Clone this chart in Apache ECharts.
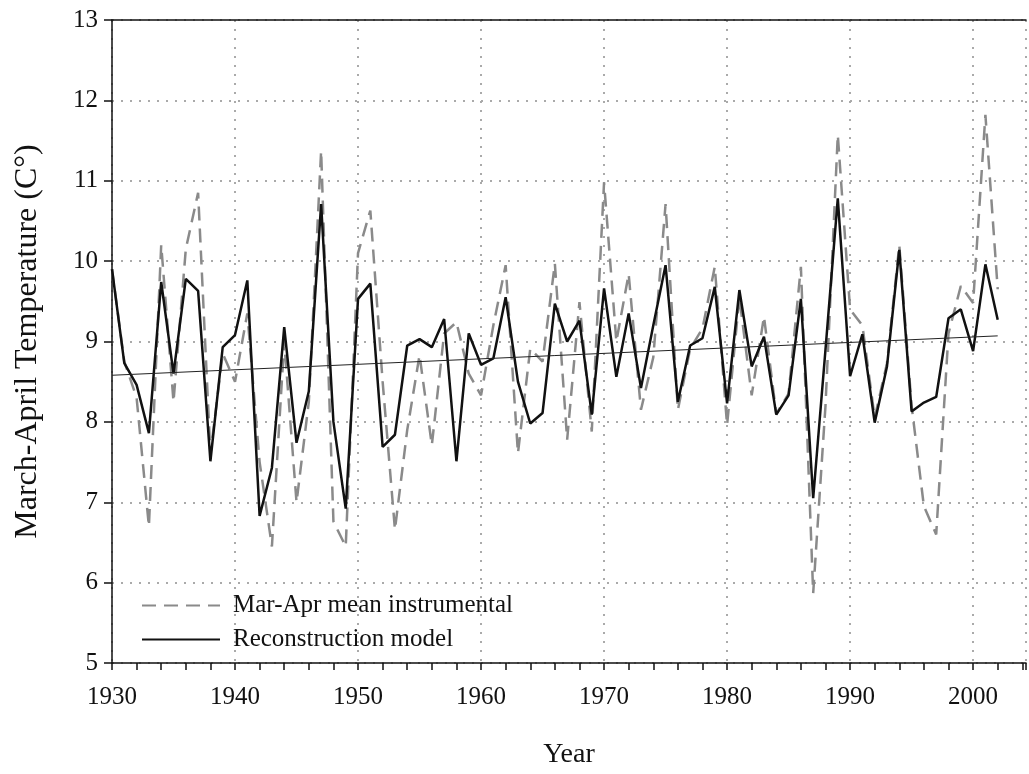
<!DOCTYPE html>
<html>
<head>
<meta charset="utf-8">
<script src="https://cdn.jsdelivr.net/npm/echarts@6/dist/echarts.min.js"></script>
<style>
    html, body {margin: 0; padding: 0; background: #fff}
    #chart {width: 1029px; height: 774px}
</style>
</head>
<body>
<div id="chart"></div>
<script>
// годы наблюдений
let years = []
for (let y = 1930; y <= 2002; y++) {
    years.push(y)
}

// инструментальные данные, март-апрель
let instrumental = [
    9.9, 8.75, 8.3, 6.7, 10.2, 8.25, 10.15, 10.85, 7.6, 8.85,
    8.5, 9.35, 7.5, 6.45, 9.0, 7.0, 8.25, 11.37, 6.76, 6.45,
    10.1, 10.63, 8.5, 6.66, 7.9, 8.83, 7.71, 9.1, 9.24, 8.6,
    8.33, 9.2, 9.95, 7.61, 8.91, 8.75, 9.97, 7.78, 9.49, 7.88,
    10.98, 9.0, 9.84, 8.15, 8.8, 10.71, 8.15, 8.91, 9.16, 9.93,
    7.96, 9.55, 8.33, 9.31, 8.1, 8.35, 9.93, 5.87, 8.2, 11.57,
    9.4, 9.2, 8.05, 8.73, 10.2, 8.2, 6.95, 6.6, 9.1, 9.69,
    9.48, 11.82, 9.65
]

// реконструкция
let reconstruction = [
    9.9, 8.73, 8.46, 7.86, 9.74, 8.6, 9.78, 9.63, 7.51, 8.93,
    9.08, 9.76, 6.83, 7.43, 9.18, 7.74, 8.38, 10.71, 8.0, 6.92,
    9.53, 9.72, 7.69, 7.84, 8.95, 9.03, 8.93, 9.28, 7.51, 9.1,
    8.71, 8.79, 9.55, 8.5, 7.98, 8.11, 9.47, 9.0, 9.26, 8.09,
    9.66, 8.56, 9.35, 8.42, 9.2, 9.95, 8.25, 8.95, 9.04, 9.68,
    8.23, 9.64, 8.69, 9.06, 8.09, 8.33, 9.53, 7.05, 8.9, 10.78,
    8.57, 9.09, 7.99, 8.69, 10.14, 8.13, 8.24, 8.31, 9.29, 9.4,
    8.88, 9.96, 9.27
]

// линия тренда (концы)
let trendYears = [1930, 2002]
let trendValues = [8.58, 9.07]

let seriesNames = ['Mar-Apr mean instrumental', 'Reconstruction model']

let font = 'Liberation Serif'

function pairs(xs, ys) {
    return xs.map((x, i) => [x, ys[i]])
}

let chartInst = echarts.init(document.getElementById('chart'))

chartInst.setOption({
    animation: false,
    backgroundColor: '#fff',
    grid: {left: 112, top: 20, bottom: 109, right: 0},
    legend: {
        orient: 'vertical',
        left: 136,
        top: 588,
        itemWidth: 78,
        itemHeight: 14,
        itemGap: 9,
        data: seriesNames,
        itemStyle: {opacity: 0},
        textStyle: {fontFamily: font, fontSize: 25, color: '#111', padding: [0, 0, 0, 8]},
    },
    xAxis: [{
        type: 'value',
        min: 1930,
        max: 2004.3,
        interval: 10,
        name: 'Year',
        nameLocation: 'middle',
        nameGap: 78,
        nameTextStyle: {fontFamily: font, fontSize: 28, color: '#111'},
        axisLine: {lineStyle: {color: '#111', width: 1.5}},
        axisTick: {length: 7, lineStyle: {color: '#111', width: 1.5}},
        minorTick: {show: true, splitNumber: 5, length: 7, lineStyle: {color: '#111', width: 1.5}},
        axisLabel: {
            fontFamily: font, fontSize: 25, color: '#111', margin: 22,
            formatter: (v) => v <= 2000 ? String(v) : '',
        },
        splitLine: {show: true, lineStyle: {color: '#aaa', type: [2, 7], width: 2}},
    }, {
        type: 'value',
        position: 'top',
        min: 1930,
        max: 2004.3,
        axisLine: {show: true, lineStyle: {color: '#111', width: 1.5}},
        axisTick: {show: false},
        axisLabel: {show: false},
        splitLine: {show: false},
    }],
    yAxis: {
        type: 'value',
        min: 5,
        max: 13,
        interval: 1,
        name: 'March-April Temperature (C°)',
        nameLocation: 'middle',
        nameGap: 68,
        nameTextStyle: {fontFamily: font, fontSize: 32, color: '#111'},
        axisLine: {show: true, lineStyle: {color: '#111', width: 1.5}},
        axisTick: {show: true, length: 8, lineStyle: {color: '#111', width: 1.5}},
        axisLabel: {fontFamily: font, fontSize: 25, color: '#111', margin: 14},
        splitLine: {show: true, lineStyle: {color: '#aaa', type: [2, 7], width: 2}},
    },
    series: [
        {
            name: seriesNames[0],
            type: 'line',
            data: pairs(years, instrumental),
            symbol: 'none',
            lineStyle: {color: '#8a8a8a', width: 2.5, type: [14, 8]},
            itemStyle: {color: '#8a8a8a'},
            z: 2,
        },
        {
            name: seriesNames[1],
            type: 'line',
            data: pairs(years, reconstruction),
            symbol: 'none',
            lineStyle: {color: '#111', width: 2.5},
            itemStyle: {color: '#111'},
            z: 3,
        },
        {
            name: 'trend',
            type: 'line',
            data: pairs(trendYears, trendValues),
            symbol: 'none',
            lineStyle: {color: '#222', width: 1},
            z: 4,
        },
    ],
})
</script>
</body>
</html>
